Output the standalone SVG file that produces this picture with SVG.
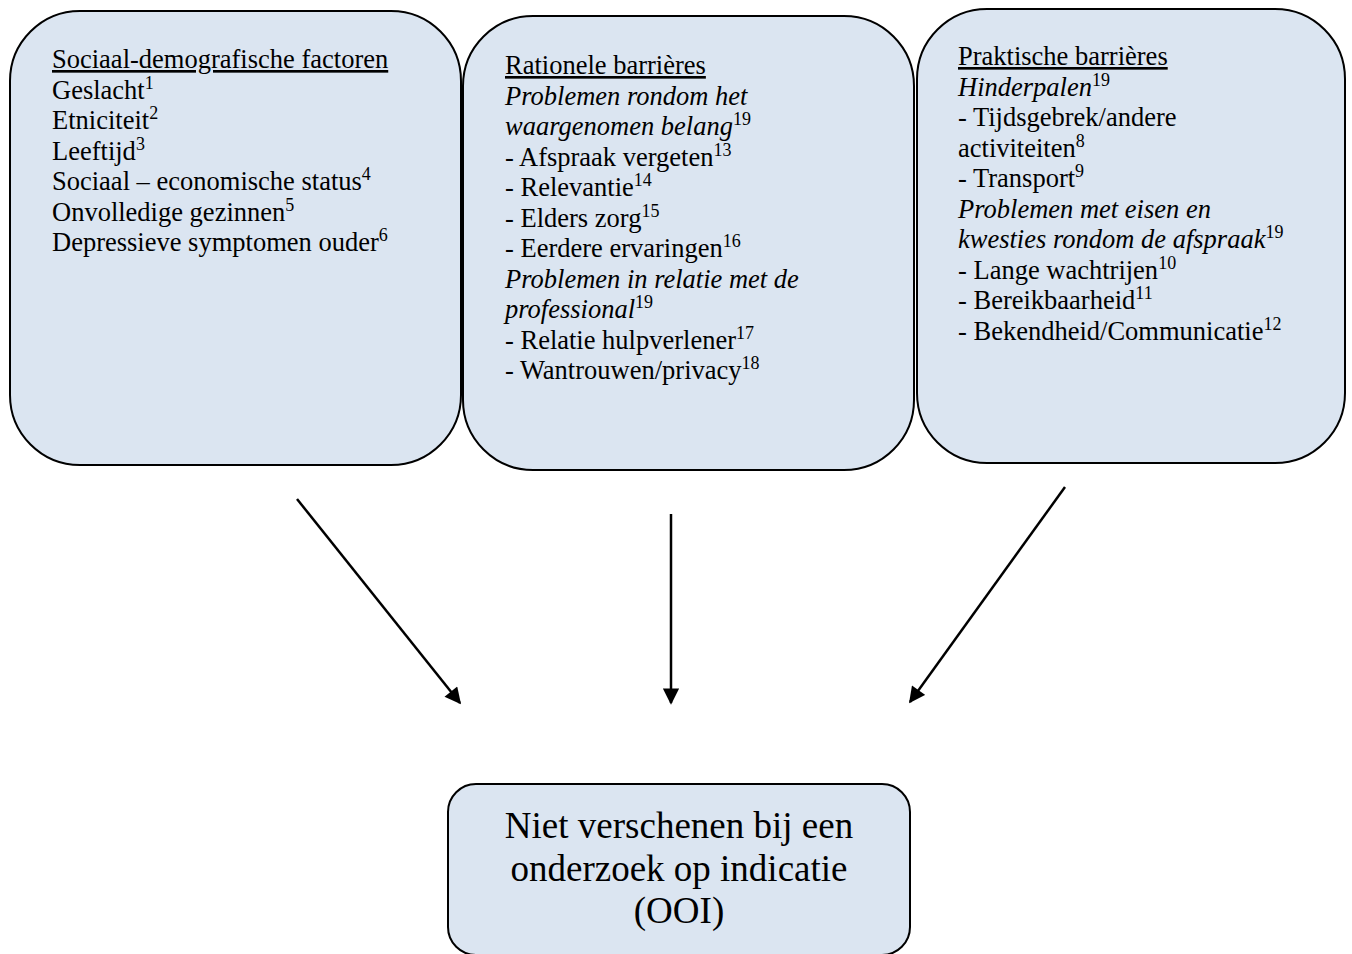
<svg xmlns="http://www.w3.org/2000/svg" width="1352" height="954" viewBox="0 0 1352 954">
  <style>
    .box { fill: #dbe5f1; stroke: #000; stroke-width: 2; }
    .t { font-family: "Liberation Serif", "Times New Roman", serif; font-size: 26.5px; fill: #000; }
    .i { font-style: italic; }
    .h { text-decoration: underline; }
    .sup { font-size: 18px; font-style: normal; }
    .big { font-family: "Liberation Serif", "Times New Roman", serif; font-size: 37px; fill: #000; text-anchor: middle; }
    .conn { stroke: #000; stroke-width: 2.5; fill: none; marker-end: url(#arrow); }
  </style>
  <defs>
    <marker id="arrow" viewBox="0 0 10 10" refX="9" refY="5" markerWidth="7" markerHeight="6.5" markerUnits="strokeWidth" orient="auto">
      <path d="M0,0 L10,5 L0,10 z" fill="#000"/>
    </marker>
  </defs>

  <rect width="1352" height="954" fill="#fff"/>

  <g id="sociaal-demografisch">
    <rect class="box" x="10" y="11" width="451" height="454" rx="70" ry="70"/>
    <text class="t h" x="52" y="68">Sociaal-demografische factoren</text>
    <text class="t" x="52" y="98.5">Geslacht<tspan class="sup" dy="-10">1</tspan></text>
    <text class="t" x="52" y="129">Etniciteit<tspan class="sup" dy="-10">2</tspan></text>
    <text class="t" x="52" y="159.5">Leeftijd<tspan class="sup" dy="-10">3</tspan></text>
    <text class="t" x="52" y="190">Sociaal – economische status<tspan class="sup" dy="-10">4</tspan></text>
    <text class="t" x="52" y="220.5">Onvolledige gezinnen<tspan class="sup" dy="-10">5</tspan></text>
    <text class="t" x="52" y="251">Depressieve symptomen ouder<tspan class="sup" dy="-10">6</tspan></text>
  </g>

  <g id="rationele-barrieres">
    <rect class="box" x="463" y="16" width="451" height="454" rx="70" ry="70"/>
    <text class="t h" x="505" y="74">Rationele barrières</text>
    <text class="t i" x="505" y="104.5">Problemen rondom het</text>
    <text class="t i" x="505" y="135">waargenomen belang<tspan class="sup" dy="-10">19</tspan></text>
    <text class="t" x="505" y="165.5">- Afspraak vergeten<tspan class="sup" dy="-10">13</tspan></text>
    <text class="t" x="505" y="196">- Relevantie<tspan class="sup" dy="-10">14</tspan></text>
    <text class="t" x="505" y="226.5">- Elders zorg<tspan class="sup" dy="-10">15</tspan></text>
    <text class="t" x="505" y="257">- Eerdere ervaringen<tspan class="sup" dy="-10">16</tspan></text>
    <text class="t i" x="505" y="287.5">Problemen in relatie met de</text>
    <text class="t i" x="505" y="318">professional<tspan class="sup" dy="-10">19</tspan></text>
    <text class="t" x="505" y="348.5">- Relatie hulpverlener<tspan class="sup" dy="-10">17</tspan></text>
    <text class="t" x="505" y="379">- Wantrouwen/privacy<tspan class="sup" dy="-10">18</tspan></text>
  </g>

  <g id="praktische-barrieres">
    <rect class="box" x="917" y="9" width="428" height="454" rx="70" ry="70"/>
    <text class="t h" x="958" y="65">Praktische barrières</text>
    <text class="t i" x="958" y="95.5">Hinderpalen<tspan class="sup" dy="-10">19</tspan></text>
    <text class="t" x="958" y="126">- Tijdsgebrek/andere</text>
    <text class="t" x="958" y="156.5">activiteiten<tspan class="sup" dy="-10">8</tspan></text>
    <text class="t" x="958" y="187">- Transport<tspan class="sup" dy="-10">9</tspan></text>
    <text class="t i" x="958" y="217.5">Problemen met eisen en</text>
    <text class="t i" x="958" y="248">kwesties rondom de afspraak<tspan class="sup" dy="-10">19</tspan></text>
    <text class="t" x="958" y="278.5">- Lange wachtrijen<tspan class="sup" dy="-10">10</tspan></text>
    <text class="t" x="958" y="309">- Bereikbaarheid<tspan class="sup" dy="-10">11</tspan></text>
    <text class="t" x="958" y="339.5">- Bekendheid/Communicatie<tspan class="sup" dy="-10">12</tspan></text>
  </g>

  <g id="niet-verschenen">
    <rect class="box" x="448" y="784" width="462" height="171" rx="28" ry="28"/>
    <text class="big" x="679" y="838">Niet verschenen bij een</text>
    <text class="big" x="679" y="880.5">onderzoek op indicatie</text>
    <text class="big" x="679" y="923">(OOI)</text>
  </g>

  <g id="connectors">
    <line class="conn" x1="297" y1="499" x2="460" y2="703"/>
    <line class="conn" x1="671" y1="514" x2="671" y2="703"/>
    <line class="conn" x1="1065" y1="487" x2="910" y2="702"/>
  </g>
</svg>
